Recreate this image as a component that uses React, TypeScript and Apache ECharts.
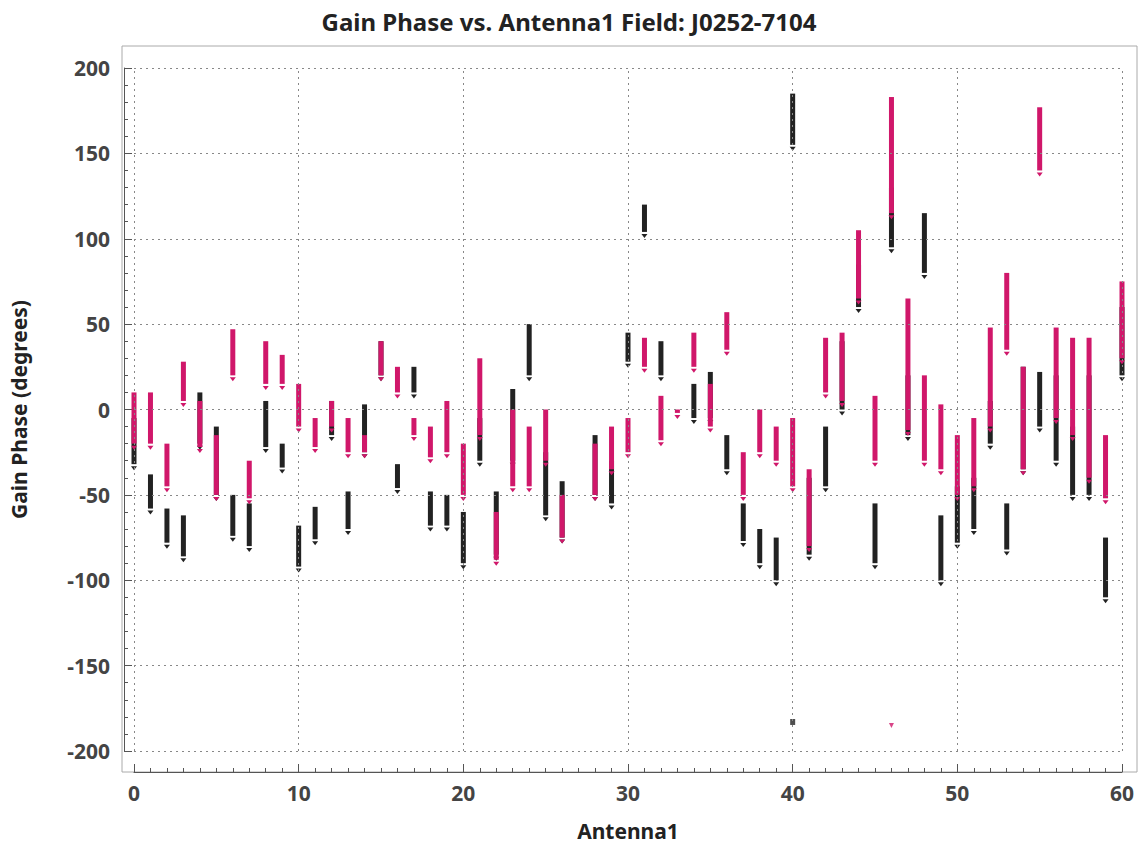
import React, { useEffect, useRef } from 'react'
import * as echarts from 'echarts'

// [antenna, low, high] in degrees
const corrA: number[][] = [
  [0, -32, -5], [1, -58, -38], [2, -78, -58], [3, -86, -62], [4, -20, 10], [5, -50, -10],
  [6, -74, -50], [7, -80, -55], [8, -22, 5], [9, -34, -20], [10, -92, -68], [11, -76, -57],
  [12, -15, 5], [13, -70, -48], [14, -25, 3], [15, 20, 40], [16, -46, -32], [17, 10, 25],
  [18, -68, -48], [19, -68, -50], [20, -90, -60], [21, -30, -5], [22, -85, -48], [23, -30, 12],
  [24, 20, 50], [25, -62, -25], [26, -75, -42], [28, -50, -15], [29, -55, -30], [30, 28, 45],
  [31, 104, 120], [32, 20, 40], [34, -5, 15], [35, -5, 22], [36, -35, -15], [37, -77, -55],
  [38, -90, -70], [39, -100, -75], [40, 155, 185], [41, -85, -40], [42, -45, -10], [43, 0, 40],
  [44, 60, 85], [45, -90, -55], [46, 95, 130], [47, -15, 20], [48, 80, 115], [49, -100, -62],
  [50, -78, -45], [51, -70, -40], [52, -20, 5], [53, -82, -55], [54, -35, 25], [55, -10, 22],
  [56, -30, 20], [57, -50, -10], [58, -50, 20], [59, -110, -75], [60, 20, 60],
]
const corrB: number[][] = [
  [0, -20, 10], [1, -20, 10], [2, -45, -20], [3, 5, 28], [4, -22, 5], [5, -50, -15],
  [6, 20, 47], [7, -52, -30], [8, 15, 40], [9, 15, 32], [10, -10, 15], [11, -22, -5],
  [12, -10, 5], [13, -25, -5], [14, -25, -15], [15, 20, 40], [16, 10, 25], [17, -15, -5],
  [18, -28, -10], [19, -25, 5], [20, -50, -20], [21, -15, 30], [22, -88, -60], [23, -45, 0],
  [24, -45, -10], [25, -30, 0], [26, -75, -50], [28, -50, -20], [29, -35, -10], [30, -25, -5],
  [31, 25, 42], [32, -18, 8], [33, -2, 0], [34, 25, 45], [35, -10, 15], [36, 35, 57],
  [37, -50, -25], [38, -25, 0], [39, -30, -10], [40, -45, -5], [41, -80, -35], [42, 10, 42],
  [43, 5, 45], [44, 65, 105], [45, -30, 8], [46, 115, 183], [47, -12, 65], [48, -30, 20],
  [49, -35, 3], [50, -50, -15], [51, -45, -5], [52, -10, 48], [53, 35, 80], [54, -35, 25],
  [55, 140, 177], [56, -5, 48], [57, -15, 42], [58, -40, 42], [59, -52, -15], [60, 30, 75],
]
const outliersA: number[][] = [[40, -183]]
const outliersB: number[][] = [[46, -185]]

const xGrid = [0, 10, 20, 30, 40, 50, 60]
const yGrid = [-200, -150, -100, -50, 0, 50, 100, 150, 200]

const BLACK = '#222222'
const PINK = '#d0176a'

const rangeSeries = (data: number[][], color: string) => ({
  type: 'custom',
  clip: false,
  data,
  encode: { x: 0, y: [1, 2] },
  renderItem: (params: any, api: any) => {
    const top = api.coord([api.value(0), api.value(2)])
    const bot = api.coord([api.value(0), api.value(1)])
    return {
      type: 'group',
      children: [
        { type: 'rect', shape: { x: top[0] - 2.5, y: top[1], width: 5, height: Math.max(bot[1] - top[1], 2) }, style: { fill: color } },
        { type: 'polygon', shape: { points: [[bot[0] - 3, bot[1] + 2], [bot[0] + 3, bot[1] + 2], [bot[0], bot[1] + 6]] }, style: { fill: color } },
      ],
    }
  },
})

const App = () => {
  const chartRef = useRef<HTMLDivElement>(null)

  useEffect(() => {
    if (!chartRef.current) return
    const chart = echarts.init(chartRef.current, null, { renderer: 'svg' })
    const gridLine = { lineStyle: { color: '#888', type: [2, 4], width: 1 } }
    const label = { fontSize: 21, color: '#444', fontWeight: 'bold', fontFamily: 'Noto Sans' }
    chart.setOption({
      animation: false,
      title: {
        text: 'Gain Phase vs. Antenna1 Field: J0252-7104',
        left: 'center', top: 4,
        textStyle: { fontSize: 24, fontWeight: 'bold', color: '#222', fontFamily: 'Noto Sans' },
      },
      graphic: [
        { type: 'rect', shape: { x: 122, y: 46, width: 1015, height: 726 }, style: { fill: 'none', stroke: '#aaa', lineWidth: 1 } },
      ],
      grid: { left: 132, right: 16, top: 68, bottom: 102 },
      xAxis: {
        type: 'value', min: 0, max: 60, interval: 10, offset: 21,
        name: 'Antenna1', nameLocation: 'middle', nameGap: 48,
        nameTextStyle: { fontSize: 21, fontWeight: 'bold', color: '#222', fontFamily: 'Noto Sans' },
        axisLine: { show: true, onZero: false, lineStyle: { color: '#555' } },
        axisTick: { show: true, length: 8, inside: true, lineStyle: { color: '#555' } },
        minorTick: { show: true, splitNumber: 10, length: 4 },
        axisLabel: { ...label, margin: 10 },
        splitLine: { show: false },
      },
      yAxis: {
        type: 'value', min: -200, max: 200, interval: 50, offset: 10,
        name: 'Gain Phase (degrees)', nameLocation: 'middle', nameGap: 95, nameRotate: 90,
        nameTextStyle: { fontSize: 21, fontWeight: 'bold', color: '#222', fontFamily: 'Noto Sans' },
        axisLine: { show: true, onZero: false, lineStyle: { color: '#555' } },
        axisTick: { show: true, length: 8, inside: true, lineStyle: { color: '#555' } },
        minorTick: { show: true, splitNumber: 5, length: 4 },
        axisLabel: { ...label, margin: 14 },
        splitLine: { show: false },
      },
      series: [
        {
          type: 'line', data: [], silent: true,
          markLine: {
            symbol: 'none', silent: true, label: { show: false }, ...gridLine,
            data: [...xGrid.map((v) => ({ xAxis: v })), ...yGrid.map((v) => ({ yAxis: v }))],
          },
        },
        rangeSeries(corrA, BLACK),
        rangeSeries(corrB, PINK),
        { type: 'scatter', data: outliersA, symbol: 'rect', symbolSize: [5, 6], itemStyle: { color: BLACK } },
        { type: 'scatter', data: outliersB, symbol: 'triangle', symbolRotate: 180, symbolSize: 5, itemStyle: { color: PINK } },
      ],
    })
    return () => chart.dispose()
  }, [])

  return <div ref={chartRef} style={{ position: 'fixed', left: 0, top: 0, width: 1138, height: 853, background: '#fff' }} />
}

export default App
